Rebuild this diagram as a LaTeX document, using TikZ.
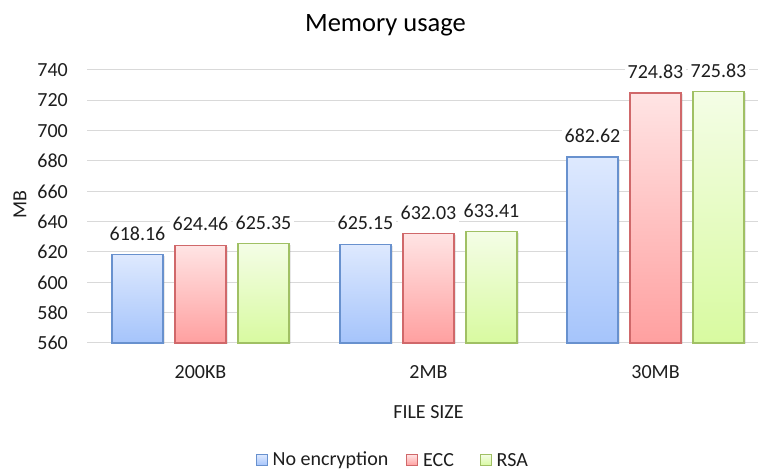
\documentclass[tikz,border=0pt]{standalone}
\usepackage{fontspec}
\setmainfont{Carlito}
\usetikzlibrary{shadows}
\definecolor{gridgray}{RGB}{217,217,217}
\definecolor{txt}{RGB}{30,30,30}
\definecolor{bluetop}{RGB}{222,233,254}
\definecolor{bluebot}{RGB}{165,196,251}
\definecolor{blueline}{RGB}{104,145,206}
\definecolor{redtop}{RGB}{255,228,228}
\definecolor{redbot}{RGB}{255,160,160}
\definecolor{redline}{RGB}{208,104,106}
\definecolor{greentop}{RGB}{244,253,230}
\definecolor{greenbot}{RGB}{216,250,160}
\definecolor{greenline}{RGB}{160,192,100}
\tikzset{
  grid line/.style={draw=gridgray, line width=1pt},
  tick label/.style={text=txt, inner sep=0pt, anchor=east},
  value label/.style={text=txt, fill=white, inner sep=3pt},
  bar/.style={line width=1.2pt, drop shadow={opacity=0.18, shadow xshift=1.5pt, shadow yshift=-1.5pt}},
  blue bar/.style={bar, draw=blueline, top color=bluetop, bottom color=bluebot},
  red bar/.style={bar, draw=redline, top color=redtop, bottom color=redbot},
  green bar/.style={bar, draw=greenline, top color=greentop, bottom color=greenbot},
  key box/.style={minimum size=11pt, inner sep=0pt, line width=1pt},
}
\begin{document}
\begin{tikzpicture}[x=1pt, y=1pt, font=\fontsize{20}{24}\selectfont]
\useasboundingbox[fill=white] (0,0) rectangle (760,470);

% horizontal grid and value axis
\foreach \v in {560,580,...,740} {
  \pgfmathsetmacro\yy{127+(\v-560)*1.5167}
  \draw[grid line] (87,\yy) -- (758,\yy);
  \node[tick label] (tick\v) at (68,\yy) {\v};
}

% grouped bars with value labels
\foreach \g/\cx/\cat/\a/\b/\c in {
    1/200.5/200KB/618.16/624.46/625.35,
    2/428.5/2MB/625.15/632.03/633.41,
    3/655.5/30MB/682.62/724.83/725.83} {
  \pgfmathsetmacro\ya{127+(\a-560)*1.5167}
  \pgfmathsetmacro\yb{127+(\b-560)*1.5167}
  \pgfmathsetmacro\yc{127+(\c-560)*1.5167}
  \draw[blue bar]  (\cx-88.5,127) rectangle (\cx-37.5,\ya);
  \draw[red bar]   (\cx-25.5,127) rectangle (\cx+25.5,\yb);
  \draw[green bar] (\cx+37.5,127) rectangle (\cx+88.5,\yc);
  \node[value label] (va\g) at (\cx-63,\ya+21) {\a};
  \node[value label] (vb\g) at (\cx,\yb+21) {\b};
  \node[value label] (vc\g) at (\cx+63,\yc+21) {\c};
  \node[text=txt] (cat\g) at (\cx,98.3) {\cat};
}

% titles
\node[text=black, font=\fontsize{26.5}{30}\selectfont, anchor=base] (title) at (385.5,438.3) {Memory usage};
\node[text=txt, rotate=90] (ylab) at (20,265) {MB};
\node[text=txt] (xlab) at (428.5,58.3) {FILE SIZE};

% legend
\node[key box, draw=blueline, top color=bluetop, bottom color=bluebot] (k1) at (261.5,10) {};
\node[text=txt, anchor=west, inner sep=0pt] (l1) at (272.5,10) {No encryption};
\node[key box, draw=redline, top color=redtop, bottom color=redbot] (k2) at (412,10) {};
\node[text=txt, anchor=west, inner sep=0pt] (l2) at (423,10) {ECC};
\node[key box, draw=greenline, top color=greentop, bottom color=greenbot] (k3) at (485.5,10) {};
\node[text=txt, anchor=west, inner sep=0pt] (l3) at (496.5,10) {RSA};
\end{tikzpicture}
\end{document}
